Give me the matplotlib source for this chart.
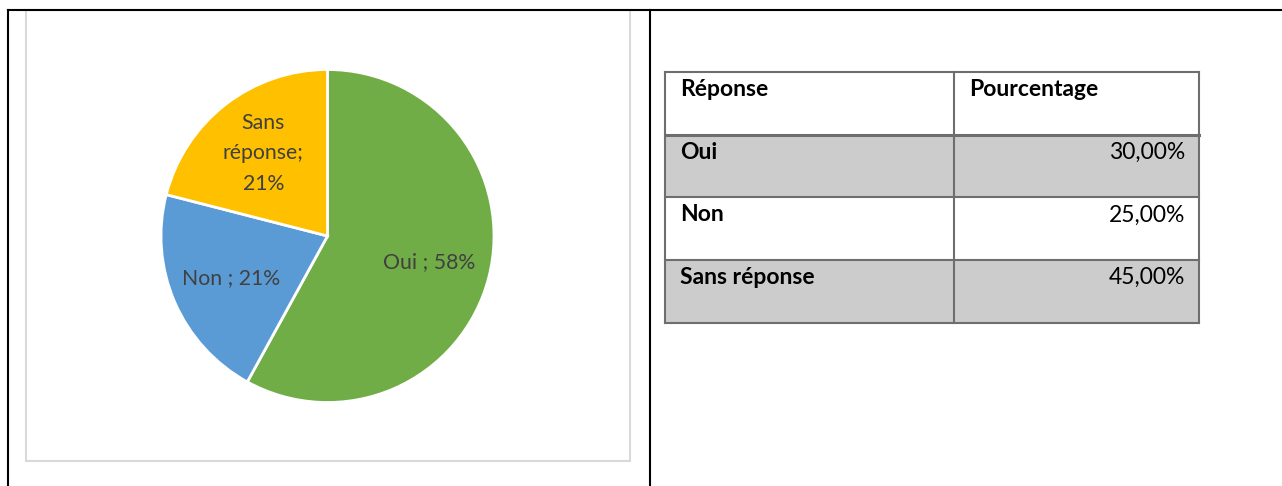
import matplotlib.pyplot as plt
from matplotlib.patches import Rectangle
from matplotlib.lines import Line2D
from matplotlib.transforms import offset_copy

# pie data (labels as printed on the chart)
categories = ['Oui', 'Non', 'Sans réponse']
pie_values = [58, 21, 21]
pie_labels = ['Oui ; 58%', 'Non ; 21%', 'Sans\nréponse;\n21%']
pie_colors = ['#70AD47', '#5B9BD5', '#FFC000']

# table data
table_header = ['Réponse', 'Pourcentage']
table_values = [30.0, 25.0, 45.0]
row_fills = ['#CCCCCC', '#FFFFFF', '#CCCCCC']

W, H = 1282, 486
plt.rcParams['font.family'] = ['Lato', 'DejaVu Sans']
fig = plt.figure(figsize=(W / 100, H / 100), dpi=100)


def fx(px):
    return px / W


def fy(py):
    return 1 - py / H


# outer document table borders
for xs, ys in [((8, 1282), (10, 10)), ((8, 8), (10, 486)), ((650, 650), (10, 486))]:
    fig.add_artist(Line2D([fx(x) for x in xs], [fy(y) for y in ys],
                          color='black', lw=1.5))

# chart area frame
fig.add_artist(Rectangle((fx(26), fy(461)), fx(630) - fx(26), fy(10) - fy(461),
                         transform=fig.transFigure, fill=False,
                         edgecolor='#D9D9D9', lw=1.5))

# pie
r = 166.5
ax = fig.add_axes([fx(327.5 - r), fy(236 + r), 2 * r / W, 2 * r / H])
wedges, texts = ax.pie(pie_values, labels=pie_labels, colors=pie_colors,
                       startangle=90, counterclock=False, labeldistance=0.63,
                       wedgeprops=dict(edgecolor='white', linewidth=2))
for t in texts:
    t.set_ha('center')
    t.set_va('center')
    t.set_multialignment('center')
    t.set_color('#404040')
    t.set_fontsize(15.3)
    t.set_linespacing(1.65)
ax.set_xlim(-1, 1)
ax.set_ylim(-1, 1)
ax.axis('off')

# table
tx0, tx1, ty0, ty1 = 665, 1199, 72, 323
tab = fig.add_axes([fx(tx0), fy(ty1), (tx1 - tx0) / W, (ty1 - ty0) / H])
tab.set_xlim(0, 1)
tab.set_ylim(4, 0)
tab.axis('off')
split = (954 - tx0) / (tx1 - tx0)

rows = [table_header] + [[c, f'{v:.2f}'.replace('.', ',') + '%']
                         for c, v in zip(categories, table_values)]
fills = ['#FFFFFF'] + row_fills

fs = 16.5
left_tr = offset_copy(tab.transData, fig=fig, x=11, y=-5, units='points')
right_tr = offset_copy(tab.transData, fig=fig, x=-10, y=-5, units='points')
for i, (row, fc) in enumerate(zip(rows, fills)):
    tab.add_patch(Rectangle((0, i), 1, 1, facecolor=fc, edgecolor='none'))
    tab.text(0, i, row[0], transform=left_tr, ha='left', va='top',
             fontsize=fs, fontweight='bold', color='black')
    if i == 0:
        tab.text(split, i, row[1], transform=left_tr, ha='left', va='top',
                 fontsize=fs, fontweight='bold', color='black')
    else:
        tab.text(1, i, row[1], transform=right_tr, ha='right', va='top',
                 fontsize=fs, color='black')

grid = '#6E6E6E'
for i in range(5):
    tab.plot([0, 1], [i, i], color=grid, lw=2.2 if i == 1 else 1.5,
             clip_on=False, solid_capstyle='projecting')
for x in [0, split, 1]:
    tab.plot([x, x], [0, 4], color=grid, lw=1.5, clip_on=False,
             solid_capstyle='projecting')

fig.savefig('out.png', dpi=100)
